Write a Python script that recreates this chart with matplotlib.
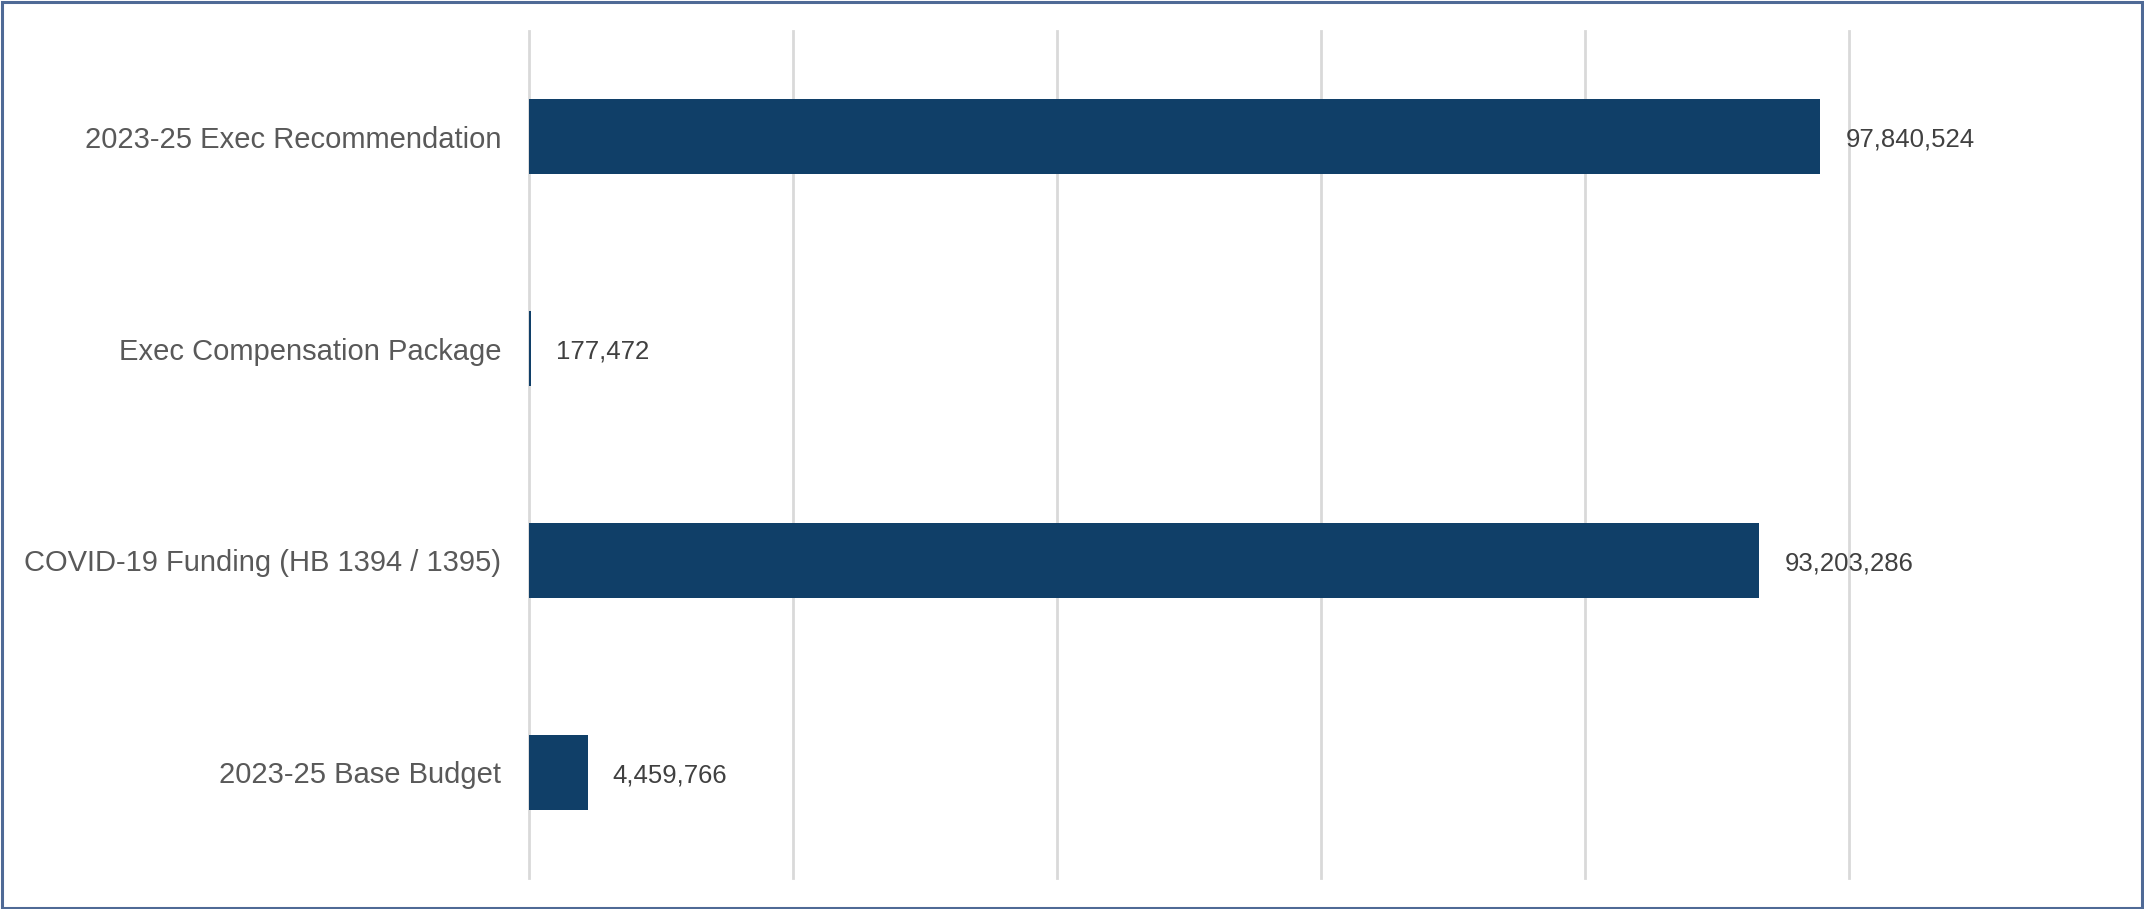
import matplotlib
matplotlib.use('Agg')
import matplotlib.pyplot as plt
import matplotlib.patches as mpatches

# --- data (bottom to top) ---
categories = ['2023-25 Base Budget', 'COVID-19 Funding (HB 1394 / 1395)',
              'Exec Compensation Package', '2023-25 Exec Recommendation']
values = [4459766, 93203286, 177472, 97840524]
x_ticks = [0, 20000000, 40000000, 60000000, 80000000, 100000000]

plt.rcParams['font.family'] = ['Liberation Sans', 'DejaVu Sans']

fig = plt.figure(figsize=(21.44, 9.092), dpi=100)
fig.patch.set_facecolor('white')
ax = fig.add_axes([529/2144, 1 - 878/909, (1849 - 529)/2144, (878 - 31)/909])

ypos = list(range(len(categories)))
bars = ax.barh(ypos, values, height=0.355, color='#103F68', edgecolor='none', zorder=3)

for bar, v in zip(bars, values):
    ax.annotate(f'{v:,}', (bar.get_width(), bar.get_y() + bar.get_height()/2),
                textcoords='offset points', xytext=(18, -2), ha='left', va='center',
                fontsize=18.5, color='#404040')

ax.set_xlim(0, 100000000)
ax.set_ylim(-0.5, len(categories) - 0.5)
ax.set_xticks(x_ticks)
ax.set_xticklabels([])
ax.set_yticks(ypos)
ax.set_yticklabels(categories, fontsize=21, color='#595959')
ax.tick_params(axis='y', length=0, pad=20)
ax.tick_params(axis='x', length=0)
ax.xaxis.grid(True, color='#D9D9D9', linewidth=2, zorder=0)
for line in ax.get_xgridlines():
    line.set_clip_on(False)
for spine in ax.spines.values():
    spine.set_visible(False)

# outer frame
fig.patches.append(mpatches.Rectangle((0.001, 0.001), 0.998, 0.997, transform=fig.transFigure,
                                      fill=False, edgecolor='#4F6A96', linewidth=2.2))

plt.savefig('out.png', dpi=100, facecolor='white')
plt.close()
